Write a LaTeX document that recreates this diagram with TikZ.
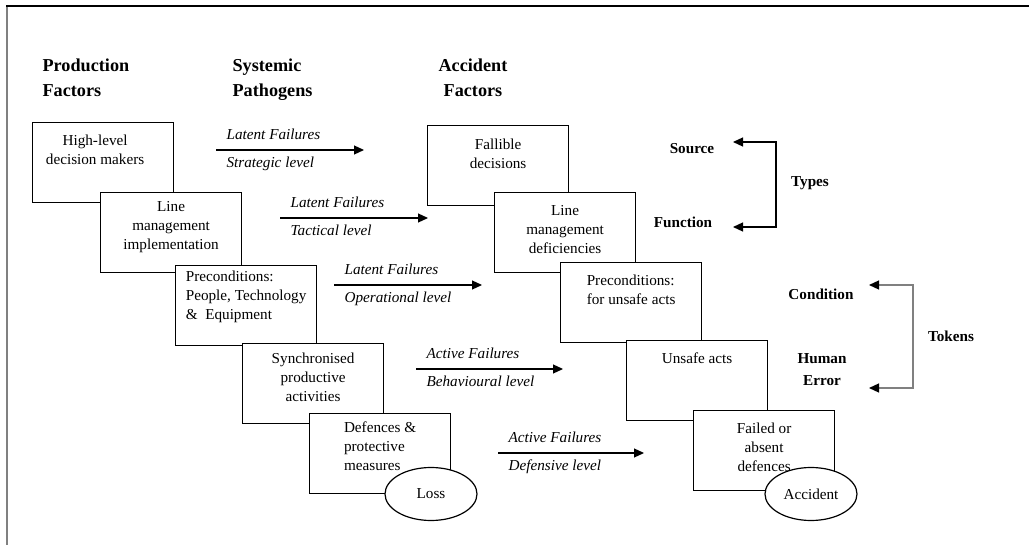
\documentclass[tikz,border=0pt]{standalone}
\usepackage{fontspec}
\setmainfont{Liberation Serif}
\usetikzlibrary{arrows.meta,positioning,shapes.geometric}

\begin{document}
\begin{tikzpicture}[x=0.5pt,y=-0.5pt,line width=0.6pt,
 every node/.style={font=\fontsize{7.6}{9.5}\selectfont,align=center},
 fbox/.style={draw,fill=white,anchor=north west,minimum width=70.5pt,minimum height=40pt},
 btxt/.style={inner sep=0pt},
 hdr/.style={font=\fontsize{9.1}{12.5}\selectfont\bfseries,anchor=base west,inner sep=0pt},
 lbl/.style={font=\fontsize{7.6}{9.5}\selectfont\bfseries},
 up/.style={font=\fontsize{7.6}{9.5}\selectfont\itshape,anchor=base west,inner sep=0pt,pos=0,xshift=5pt,yshift=5.2pt},
 dn/.style={font=\fontsize{7.6}{9.5}\selectfont\itshape,anchor=base west,inner sep=0pt,pos=0,xshift=5pt,yshift=-8.8pt},
 oval/.style={draw,fill=white,ellipse,minimum width=46pt,minimum height=26.5pt,inner sep=0pt},
 arr/.style={-{Triangle[length=5pt,width=4.5pt]}},
 brk/.style={{Triangle[length=5pt,width=4.5pt,black]}-{Triangle[length=5pt,width=4.5pt,black]}}]
\useasboundingbox (0,0) rectangle (1029,545);
% frame
\draw[gray,line width=1pt] (7,545) -- (7,6);
\draw (6,6) -- (1029,6);
% column heads
\node[hdr,align=left] (hprod) at (42,97) {Production\\Factors};
\node[hdr,align=left] (hpath) at (232,97) {Systemic\\Pathogens};
\node[hdr,align=center] (hacc) at (438,97) {Accident\\Factors};
% production factors
\node[fbox] (p1) at (32,122) {};
\node[btxt,below=6pt of p1.north,xshift=-4pt] (p1t) {High-level\\decision makers};
\node[fbox] (p2) at (100,192) {};
\node[btxt,below=4.5pt of p2.north] (p2t) {Line\\management\\implementation};
\node[fbox] (p3) at (175,265) {};
\node[btxt,below=2.5pt of p3.north,align=left] (p3t) {Preconditions:\\People, Technology\\\&~ Equipment};
\node[fbox] (p4) at (242,343) {};
\node[btxt,below=4.5pt of p4.north] (p4t) {Synchronised\\productive\\activities};
\node[fbox] (p5) at (309,413) {};
\node[btxt,below=4pt of p5.north,align=left] (p5t) {Defences \&\\protective\\measures};
\node[oval] (loss) at (431,494) {Loss};
% accident factors
\node[fbox] (a1) at (427,125) {};
\node[btxt,below=6.5pt of a1.north] (a1t) {Fallible\\decisions};
\node[fbox] (a2) at (494,192) {};
\node[btxt,below=6.5pt of a2.north] (a2t) {Line\\management\\deficiencies};
\node[fbox] (a3) at (560,262) {};
\node[btxt,below=6pt of a3.north,align=left] (a3t) {Preconditions:\\for unsafe acts};
\node[fbox] (a4) at (626,340) {};
\node[btxt,below=6pt of a4.north] (a4t) {Unsafe acts};
\node[fbox] (a5) at (693,410) {};
\node[btxt,below=6pt of a5.north] (a5t) {Failed or\\absent\\defences};
\node[oval] (acc) at (811,494) {Accident};
% failures
\coordinate (f1s) at (216,150); \coordinate (f1e) at (364,150);
\coordinate (f2s) at (280,218); \coordinate (f2e) at (428,218);
\coordinate (f3s) at (334,285); \coordinate (f3e) at (482,285);
\coordinate (f4s) at (416,369); \coordinate (f4e) at (563,369);
\coordinate (f5s) at (498,453); \coordinate (f5e) at (644,453);
\draw[arr] (f1s) -- node[up] (f1a) {Latent Failures} node[dn] (f1b) {Strategic level} (f1e);
\draw[arr] (f2s) -- node[up] (f2a) {Latent Failures} node[dn] (f2b) {Tactical level} (f2e);
\draw[arr] (f3s) -- node[up] (f3a) {Latent Failures} node[dn] (f3b) {Operational level} (f3e);
\draw[arr] (f4s) -- node[up] (f4a) {Active Failures} node[dn] (f4b) {Behavioural level} (f4e);
\draw[arr] (f5s) -- node[up] (f5a) {Active Failures} node[dn] (f5b) {Defensive level} (f5e);
% types and tokens
\node[lbl] (src) at (692,149) {Source};
\node[lbl] (fun) at (683,222) {Function};
\node[lbl] (typ) at (810,183) {Types};
\node[lbl] (cnd) at (821,294) {Condition};
\node[lbl] (hum) at (822,370) {Human\\[1.5pt]Error};
\node[lbl] (tok) at (951,336) {Tokens};
\coordinate (t1) at (733,142); \coordinate (t2) at (733,227);
\coordinate (k1) at (869,285); \coordinate (k2) at (869,388);
\draw[brk] (t1) -- ++(43,0) |- (t2);
\draw[brk,gray] (k1) -- ++(44,0) |- (k2);
\end{tikzpicture}
\end{document}
